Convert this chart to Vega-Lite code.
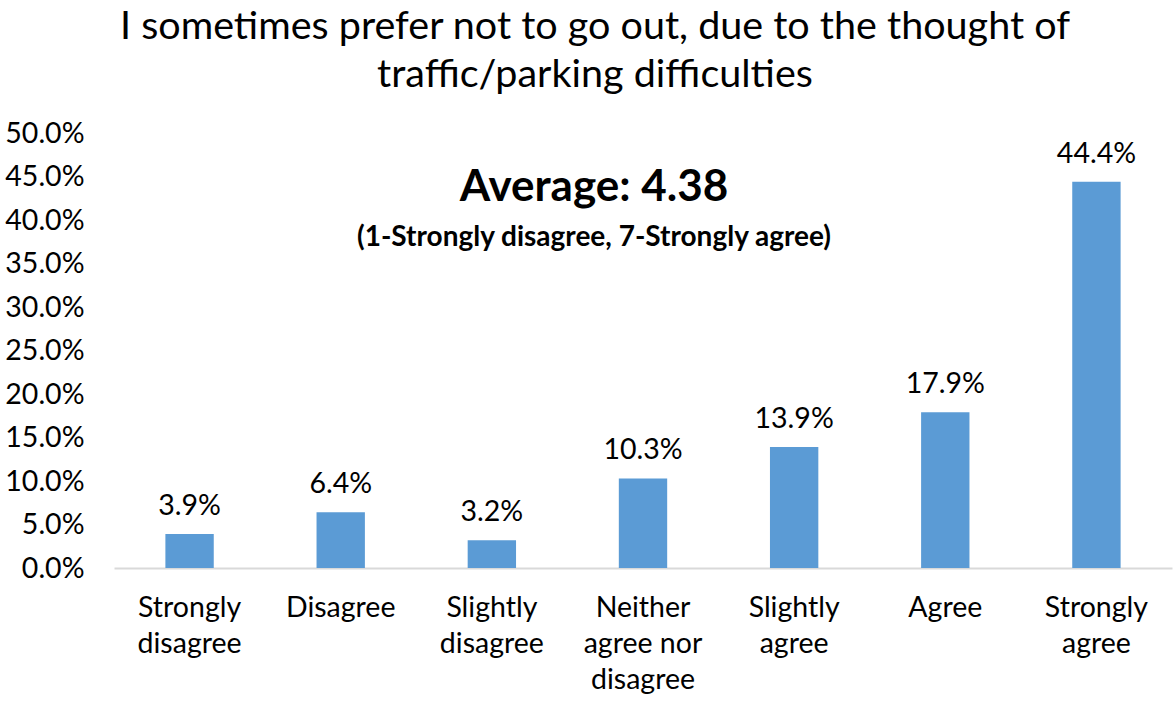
{
  "$schema": "https://vega.github.io/schema/vega-lite/v6.json",
  "autosize": {"type": "none"},
  "width": 1058,
  "height": 435,
  "padding": {"left": 114, "top": 133, "right": 3, "bottom": 133},
  "background": "white",
  "config": {"font": "Lato", "view": {"stroke": null}},
  "title": {
    "text": ["I sometimes prefer not to go out, due to the thought of", "traffic/parking difficulties"],
    "fontSize": 39.5,
    "fontWeight": "normal",
    "color": "#000000",
    "anchor": "middle",
    "frame": "group",
    "dx": -48,
    "lineHeight": 48,
    "offset": 24
  },
  "data": {
    "values": [
      {"response": "Strongly disagree", "pct": 0.039},
      {"response": "Disagree", "pct": 0.064},
      {"response": "Slightly disagree", "pct": 0.032},
      {"response": "Neither agree nor disagree", "pct": 0.103},
      {"response": "Slightly agree", "pct": 0.139},
      {"response": "Agree", "pct": 0.179},
      {"response": "Strongly agree", "pct": 0.444}
    ]
  },
  "encoding": {
    "x": {
      "field": "response",
      "type": "nominal",
      "sort": null,
      "scale": {"paddingInner": 0.68, "paddingOuter": 0.34},
      "axis": {
        "title": null,
        "labelAngle": 0,
        "labelFontSize": 28.5,
        "labelColor": "#000000",
        "labelLineHeight": 36,
        "labelPadding": 25,
        "labelBaseline": "top",
        "ticks": false,
        "domainColor": "#D9D9D9",
        "domainWidth": 2,
        "labelExpr": "datum.value == 'Neither agree nor disagree' ? ['Neither', 'agree nor', 'disagree'] : split(datum.value, ' ')"
      }
    },
    "y": {
      "field": "pct",
      "type": "quantitative",
      "scale": {"domain": [0, 0.5]},
      "axis": {
        "title": null,
        "format": ".1%",
        "values": [0, 0.05, 0.1, 0.15, 0.2, 0.25, 0.3, 0.35, 0.4, 0.45, 0.5],
        "labelFontSize": 28.5,
        "labelColor": "#000000",
        "labelPadding": 30,
        "ticks": false,
        "domain": false,
        "grid": false
      }
    }
  },
  "layer": [
    {"mark": {"type": "bar", "color": "#5B9BD5"}},
    {
      "mark": {"type": "text", "fontSize": 28.5, "color": "#000000", "baseline": "alphabetic", "dy": -19},
      "encoding": {"text": {"field": "pct", "type": "quantitative", "format": ".1%"}}
    },
    {
      "data": {
        "values": [
          {"note": "Average: 4.38", "ypos": 0.437, "size": 44},
          {"note": "(1-Strongly disagree, 7-Strongly agree)", "ypos": 0.379, "size": 28}
        ]
      },
      "mark": {"type": "text", "fontWeight": "bold", "color": "#000000", "baseline": "middle", "dx": -49},
      "encoding": {
        "x": {"datum": "Neither agree nor disagree"},
        "y": {"field": "ypos", "type": "quantitative"},
        "text": {"field": "note"},
        "size": {"field": "size", "type": "quantitative", "scale": null, "legend": null}
      }
    }
  ]
}
